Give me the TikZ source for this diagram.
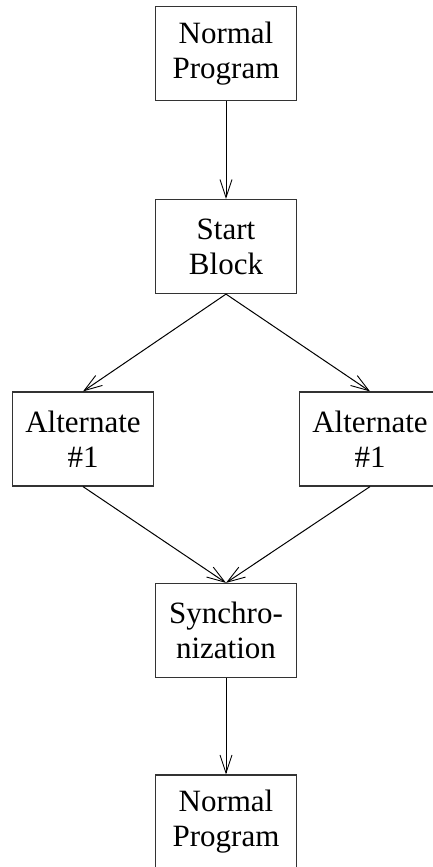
\documentclass[tikz,border=0pt]{standalone}
\usepackage{fontspec}
\setmainfont{Liberation Serif}
\usetikzlibrary{arrows.meta}
\begin{document}
\begin{tikzpicture}[x=1pt,y=-1pt,
  blockbox/.style={draw=black!80, line width=1.2pt, minimum width=141pt, minimum height=94pt,
    align=center, inner sep=0pt, font=\fontsize{31}{35}\selectfont},
  flow/.style={line width=1pt, -{Straight Barb[length=18pt,width=12pt,line width=0.9pt]}}]
  \useasboundingbox (0,0) rectangle (433,867);
  \clip (0,0) rectangle (433,867);
  \node[blockbox] (np1)  at (226,53.5)  {Normal\\Program};
  \node[blockbox] (sb)   at (226,246.5) {Start\\Block};
  \node[blockbox] (alt1) at (83,439)    {Alternate\\\#1};
  \node[blockbox] (alt2) at (370,439)   {Alternate\\\#1};
  \node[blockbox] (sync) at (226,630.5) {Synchro-\\nization};
  \node[blockbox] (np2)  at (226,822)   {Normal\\Program};
  \draw[flow] (np1.south) -- (sb.north);
  \draw[flow] (sb.south) -- (alt1.north);
  \draw[flow] (sb.south) -- (alt2.north);
  \draw[flow] (alt1.south) -- (sync.north);
  \draw[flow] (alt2.south) -- (sync.north);
  \draw[flow] (sync.south) -- (np2.north);
\end{tikzpicture}
\end{document}
